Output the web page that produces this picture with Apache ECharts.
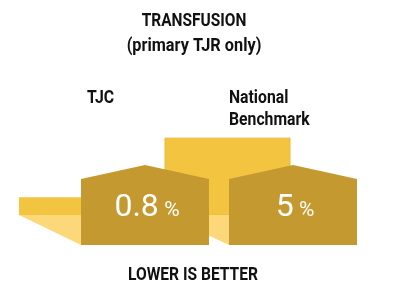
<!DOCTYPE html>
<html>
<head>
<meta charset="utf-8">
<script src="https://cdn.jsdelivr.net/npm/echarts@6/dist/echarts.min.js"></script>
<style>html,body{margin:0;padding:0;background:#fff}#c{width:400px;height:293px}</style>
</head>
<body>
<div id="c"></div>
<script>
var categories = ['TJC', 'National\nBenchmark'];
var values = [0.8, 5];
var valueLabels = ['0.8', '5'];
var unit = '%';
var titleText = 'TRANSFUSION';
var subtitleText = '(primary TJR only)';
var footerText = 'LOWER IS BETTER';

var FONT = 'Roboto, "Noto Sans", sans-serif';
var C_BACK = '#F3C440', C_SHADE = '#FCD87A', C_HOUSE = '#C4992F';

// per-category back-bar span relative to the category centre (perspective look)
var BACK_SPAN = [[-126, -63], [-128, -3]];
var HALF = 64;

var chart = echarts.init(document.getElementById('c'), null, {renderer: 'canvas'});

function backItem(params, api) {
  var i = params.dataIndex;
  var top = api.coord([api.value(0), api.value(1)]);
  var cx = top[0];
  var bottom = params.coordSys.y + params.coordSys.height;
  var floorTop = bottom - 30;
  var l = cx + BACK_SPAN[i][0], r = cx + BACK_SPAN[i][1];
  return {
    type: 'group',
    children: [
      {type: 'rect', shape: {x: l, y: top[1], width: r - l, height: floorTop - top[1]},
       style: {fill: C_BACK, stroke: i === 1 ? '#E9B93A' : null, lineWidth: 1}},
      {type: 'polygon', shape: {points: [[l, floorTop], [r, floorTop], [r, bottom], [cx - HALF, bottom]]},
       style: {fill: C_SHADE}}
    ]
  };
}

function houseItem(params, api) {
  var i = params.dataIndex;
  var p = api.coord([api.value(0), api.value(1)]);
  var cx = p[0];
  var bottom = params.coordSys.y + params.coordSys.height;
  var shoulder = bottom - 66, peak = bottom - 80;
  return {
    type: 'group',
    children: [
      {type: 'polygon', shape: {points: [[cx - HALF, bottom], [cx - HALF, shoulder], [cx, peak], [cx + HALF, shoulder], [cx + HALF, bottom]]},
       style: {fill: C_HOUSE}},
      {type: 'text', x: cx + 2, y: bottom - 37,
       style: {text: '{v|' + valueLabels[i] + '} {p|' + unit + '}', align: 'center', verticalAlign: 'middle',
         rich: {v: {fontSize: 32, fontFamily: FONT, fontWeight: 400, fill: '#fff'},
                p: {fontSize: 21, fontFamily: FONT, fontWeight: 400, fill: '#fff', padding: [6, 0, 0, 2]}}}},
      {type: 'text', x: cx + (i === 0 ? -58 : -64), y: 88, scaleX: 0.9,
       style: {text: categories[i], align: 'left', verticalAlign: 'top', fontSize: 17.5, fontWeight: 'bold',
         fontFamily: FONT, fill: '#111', lineHeight: 21.5}}
    ]
  };
}

var seriesData = categories.map(function (c, i) { return [i, values[i]]; });

chart.setOption({
  animation: false,
  grid: {left: 71, right: 33, top: 110, bottom: 48},
  xAxis: {type: 'category', data: categories, show: false},
  yAxis: {type: 'value', min: -2.6, max: 7, show: false},
  graphic: [
    {type: 'text', x: 194, y: 21, scaleX: 0.86, style: {text: titleText, align: 'center', verticalAlign: 'middle', fontSize: 18, fontWeight: 'bold', fontFamily: FONT, fill: '#111'}},
    {type: 'text', x: 194, y: 46, scaleX: 0.88, style: {text: subtitleText, align: 'center', verticalAlign: 'middle', fontSize: 18.5, fontWeight: 'bold', fontFamily: FONT, fill: '#111'}},
    {type: 'text', x: 193, y: 275, scaleX: 0.82, style: {text: footerText, align: 'center', verticalAlign: 'middle', fontSize: 19, fontWeight: 'bold', fontFamily: FONT, fill: '#111'}}
  ],
  series: [
    {type: 'custom', z: 1, renderItem: backItem, data: seriesData, silent: true},
    {type: 'custom', z: 2, renderItem: houseItem, data: seriesData, silent: true}
  ]
});
</script>
</body>
</html>
